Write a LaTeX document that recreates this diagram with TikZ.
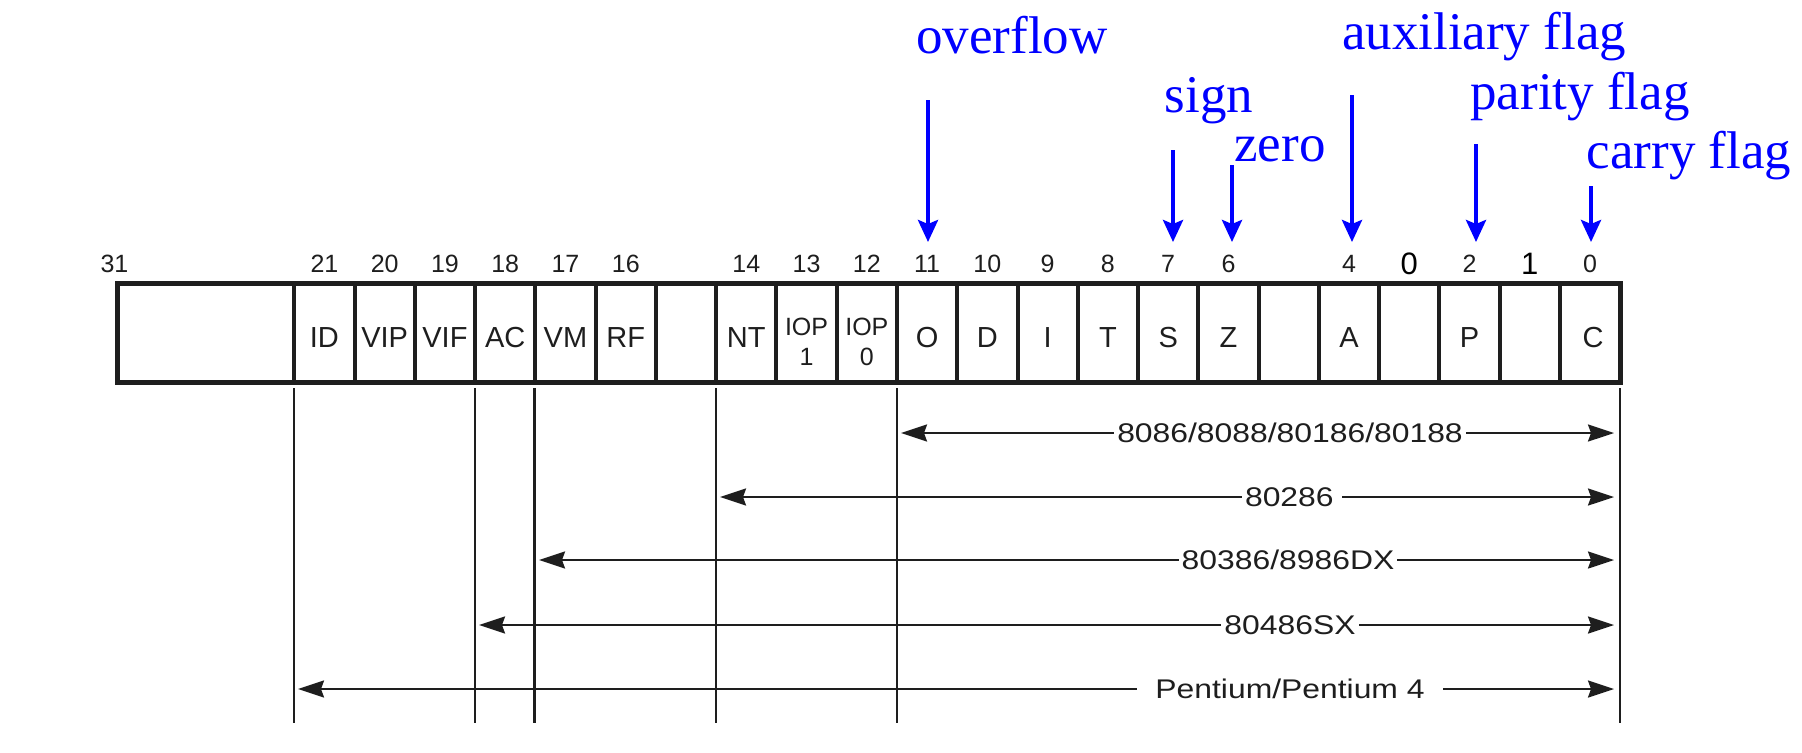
\documentclass[tikz,border=0pt]{standalone}
\usepackage{fontspec}
\usepackage{graphicx}
\setmainfont{Liberation Serif}
\newfontfamily\arialf{Liberation Sans}
\usetikzlibrary{arrows.meta}
\definecolor{ink}{HTML}{1E1E1E}
\definecolor{flagblue}{HTML}{0000FF}
\tikzset{
  frame/.style={draw=ink, line width=2.5pt},
  divider/.style={draw=ink, line width=2pt},
  celltxt/.style={font=\arialf\fontsize{14.5pt}{17pt}\selectfont, text=ink, anchor=base, inner sep=0pt},
  smalltxt/.style={font=\arialf\fontsize{12.5pt}{15pt}\selectfont, text=ink, anchor=base, inner sep=0pt},
  bitnum/.style={font=\arialf\fontsize{12.5pt}{15pt}\selectfont, text=ink, anchor=base, inner sep=0pt},
  bigbit/.style={font=\arialf\fontsize{15.5pt}{18pt}\selectfont, text=black, anchor=base, inner sep=0pt},
  guide/.style={draw=ink, line width=1.1pt},
  span/.style={draw=ink, line width=1.15pt,
    {Stealth[length=13pt,width=8.5pt,inset=1.5pt]}-{Stealth[length=13pt,width=8.5pt,inset=1.5pt]}},
  spanlbl/.style={font=\arialf\fontsize{13.5pt}{16pt}\selectfont, text=ink, fill=white, inner xsep=1.5pt, inner ysep=1pt},
  flagtxt/.style={font=\fontsize{26.5pt}{30pt}\selectfont, text=flagblue, anchor=base, inner sep=0pt},
  flagarrow/.style={draw=flagblue, line width=2pt, -{Stealth[length=11pt,width=10pt,inset=2pt]}}
}
\newcommand{\wide}[1]{\scalebox{1.18}[1]{#1}}
\begin{document}
\begin{tikzpicture}[x=0.5pt,y=-0.5pt]
\useasboundingbox (0,0) rectangle (1802,752);
\fill[white] (0,0) rectangle (1802,752);

% register frame and dividers
\foreach \k in {0,...,21} {
  \draw[divider] ({294.3+60.27*\k},283) -- ({294.3+60.27*\k},382);
}
\draw[frame] (117,283) rectangle (1620,382);

% cell labels
\foreach \i/\lbl in {0/ID,1/VIP,2/VIF,3/AC,4/VM,5/RF,7/NT,10/O,11/D,12/I,13/T,14/S,15/Z,17/A,19/P} {
  \node[celltxt] (c\i) at ({294.3+60.27*\i+30.1},347) {\lbl};
}
\node[celltxt] (c21) at ({294.3+60.27*21+33},347) {C};
\node[smalltxt] (c8a) at ({294.3+60.27*8+30.1},335) {IOP};
\node[smalltxt] (c8b) at ({294.3+60.27*8+30.1},365) {1};
\node[smalltxt] (c9a) at ({294.3+60.27*9+30.1},335) {IOP};
\node[smalltxt] (c9b) at ({294.3+60.27*9+30.1},365) {0};

% bit numbers
\node[bitnum] (b31) at (114.5,272) {31};
\foreach \i/\n in {0/21,1/20,2/19,3/18,4/17,5/16,7/14,8/13,9/12,10/11,11/10,12/9,13/8,14/7,15/6,17/4,19/2,21/0} {
  \node[bitnum] (b\i) at ({294.3+60.27*\i+30.1},272) {\n};
}
\node[bigbit] (b18) at ({294.3+60.27*18+30.1},274) {0};
\node[bigbit] (b20) at ({294.3+60.27*20+30.1},274) {1};

% guide lines below the register
\foreach \n/\x in {id/294.3,ac/475.1,vm/534.5,nt/716.2,o/897,r/1620} {
  \coordinate (g\n t) at (\x,388);
  \coordinate (g\n b) at (\x,723);
  \draw[guide] (g\n t) -- (g\n b);
}

% processor spans
\coordinate (s1a) at (901,433);  \coordinate (s1b) at (1614,433);
\coordinate (s2a) at (720,497);  \coordinate (s2b) at (1614,497);
\coordinate (s3a) at (539,560);  \coordinate (s3b) at (1614,560);
\coordinate (s4a) at (479,625);  \coordinate (s4b) at (1614,625);
\coordinate (s5a) at (298,689);  \coordinate (s5b) at (1614,689);
\draw[span] (s1a) -- (s1b);
\draw[span] (s2a) -- (s2b);
\draw[span] (s3a) -- (s3b);
\draw[span] (s4a) -- (s4b);
\draw[span] (s5a) -- (s5b);
\node[spanlbl] (l1) at (1290,433) {\wide{8086/8088/80186/80188}};
\node[spanlbl] (l2) at (1292,497) {\wide{80286\,}};
\node[spanlbl] (l3) at (1288,560) {\wide{80386/8986DX}};
\node[spanlbl] (l4) at (1290,625) {\wide{80486SX}};
\node[spanlbl, inner xsep=9pt] (l5) at (1290,689) {\wide{Pentium/Pentium 4}};

% blue flag annotations
\node[flagtxt] (fo) at (1012,53) {overflow};
\node[flagtxt] (fs) at (1209,112) {sign};
\node[flagtxt] (fz) at (1280,161) {zero};
\node[flagtxt] (fa) at (1484,49) {auxiliary flag};
\node[flagtxt] (fp) at (1580,109) {parity flag};
\node[flagtxt] (fc) at (1689,168) {carry flag};

\coordinate (ao1) at (928,100);  \coordinate (ao2) at (928,242);
\coordinate (as1) at (1173,150); \coordinate (as2) at (1173,242);
\coordinate (az1) at (1232,165); \coordinate (az2) at (1232,242);
\coordinate (aa1) at (1352,95);  \coordinate (aa2) at (1352,242);
\coordinate (ap1) at (1476,144); \coordinate (ap2) at (1476,242);
\coordinate (ac1) at (1591,186); \coordinate (ac2) at (1591,242);
\draw[flagarrow] (ao1) -- (ao2);
\draw[flagarrow] (as1) -- (as2);
\draw[flagarrow] (az1) -- (az2);
\draw[flagarrow] (aa1) -- (aa2);
\draw[flagarrow] (ap1) -- (ap2);
\draw[flagarrow] (ac1) -- (ac2);
\end{tikzpicture}
\end{document}
